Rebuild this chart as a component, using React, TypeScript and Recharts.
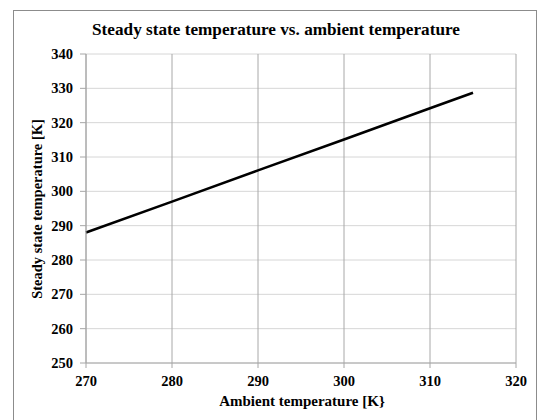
import React from "react";
import { LineChart, Line, XAxis, YAxis, CartesianGrid, Label } from "recharts";

const ambientK = [270, 280, 290, 300, 310, 315];
const steadyK = [288, 297, 306.1, 315.1, 324.2, 328.7];
const xTicks = [270, 280, 290, 300, 310, 320];
const yTicks = [250, 260, 270, 280, 290, 300, 310, 320, 330, 340];

const data = ambientK.map((a, i) => ({ ambient: a, steady: steadyK[i] }));

const FONT = "'Liberation Serif', 'Times New Roman', serif";
const X_LABEL = "Ambient temperature [K}";
const Y_LABEL = "Steady state temperature [K]";

export default function App() {
  return (
    <div
      style={{
        position: "absolute",
        left: 0,
        top: 0,
        width: 542,
        height: 420,
        overflow: "hidden",
        background: "#fff",
        fontFamily: FONT,
      }}
    >
      {/* outer frame */}
      <div
        style={{
          position: "absolute",
          left: 13,
          top: 10,
          width: 522,
          height: 420,
          border: "1px solid #8c8c8c",
        }}
      />
      <div
        style={{
          position: "absolute",
          left: 5,
          top: 20,
          width: 542,
          textAlign: "center",
          fontWeight: "bold",
          fontSize: 17.2,
          color: "#000",
          lineHeight: "20px",
        }}
      >
        Steady state temperature vs. ambient temperature
      </div>
      <div style={{ position: "absolute", left: 0, top: 0 }}>
        <LineChart
          width={542}
          height={420}
          data={data}
          margin={{ top: 54, right: 26, bottom: 27, left: 0 }}
        >
          <CartesianGrid vertical={false} stroke="#d6d6d6" />
          <CartesianGrid horizontal={false} stroke="#a8a8a8" />
          <XAxis
            dataKey="ambient"
            type="number"
            domain={[270, 320]}
            ticks={xTicks}
            height={30}
            tickSize={5}
            tickMargin={8}
            stroke="#a6a6a6"
            tick={{ fill: "#000", fontSize: 14.5, fontWeight: "bold", fontFamily: FONT }}
          >
            <Label
              content={() => (
                <text
                  x={302}
                  y={401}
                  textAnchor="middle"
                  dominantBaseline="central"
                  fontFamily={FONT}
                  fontWeight="bold"
                  fontSize={15}
                  fill="#000"
                >
                  {X_LABEL}
                </text>
              )}
            />
          </XAxis>
          <YAxis
            type="number"
            domain={[250, 340]}
            ticks={yTicks}
            width={86}
            tickSize={6}
            tickMargin={7}
            stroke="#a6a6a6"
            tick={{ fill: "#000", fontSize: 14.5, fontWeight: "bold", fontFamily: FONT }}
          >
            <Label
              content={() => (
                <text
                  x={37}
                  y={209}
                  transform="rotate(-90 37 209)"
                  textAnchor="middle"
                  dominantBaseline="central"
                  fontFamily={FONT}
                  fontWeight="bold"
                  fontSize={14.5}
                  fill="#000"
                >
                  {Y_LABEL}
                </text>
              )}
            />
          </YAxis>
          <Line
            type="linear"
            dataKey="steady"
            stroke="#000"
            strokeWidth={2.6}
            dot={false}
            isAnimationActive={false}
          />
        </LineChart>
      </div>
    </div>
  );
}
